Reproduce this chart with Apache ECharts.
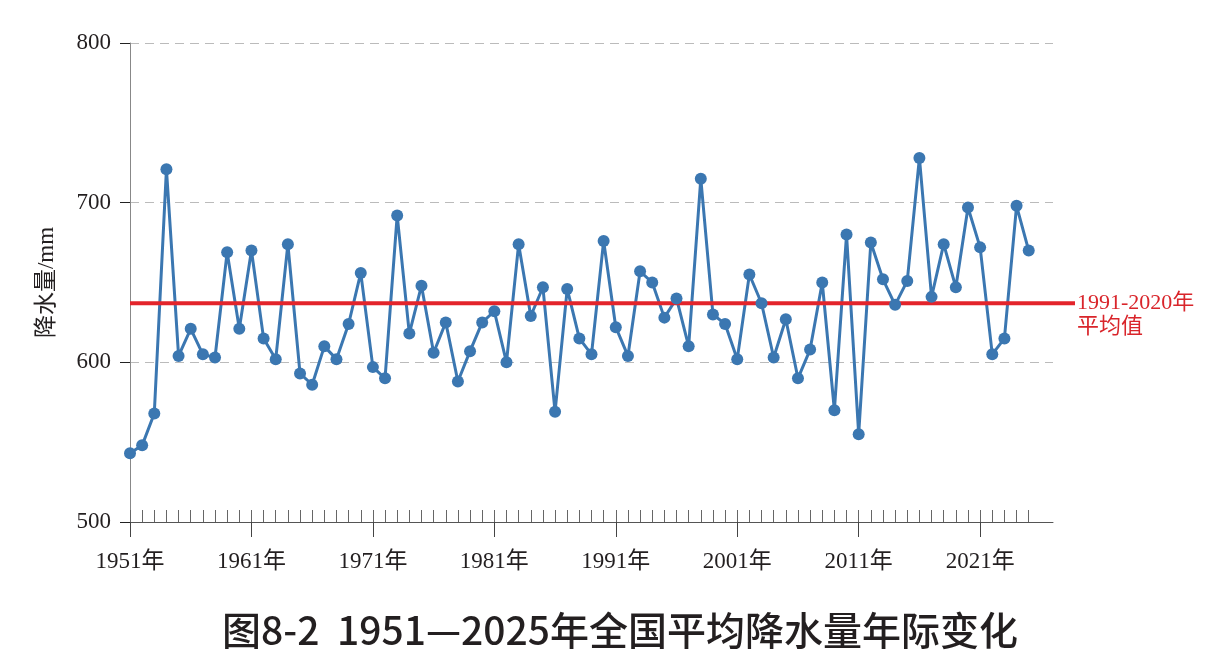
<!DOCTYPE html>
<html>
<head>
<meta charset="utf-8">
<script src="https://cdn.jsdelivr.net/npm/echarts@6/dist/echarts.min.js"></script>
<style>
  html, body { margin: 0; padding: 0; background: #fff; }
  #main { width: 1223px; height: 672px; }
</style>
</head>
<body>
<div id="main"></div>
<script>
// 年份
var years = ['1951','1952','1953','1954','1955','1956','1957','1958','1959','1960',
  '1961','1962','1963','1964','1965','1966','1967','1968','1969','1970',
  '1971','1972','1973','1974','1975','1976','1977','1978','1979','1980',
  '1981','1982','1983','1984','1985','1986','1987','1988','1989','1990',
  '1991','1992','1993','1994','1995','1996','1997','1998','1999','2000',
  '2001','2002','2003','2004','2005','2006','2007','2008','2009','2010',
  '2011','2012','2013','2014','2015','2016','2017','2018','2019','2020',
  '2021','2022','2023','2024','2025'];
// 全国平均降水量 (mm)
var precip = [543,548,568,721,604,621,605,603,669,621,
  670,615,602,674,593,586,610,602,624,656,
  597,590,692,618,648,606,625,588,607,625,
  632,600,674,629,647,569,646,615,605,676,
  622,604,657,650,628,640,610,715,630,624,
  602,655,637,603,627,590,608,650,570,680,
  555,675,652,636,651,728,641,674,647,697,
  672,605,615,698,670];
// 1991-2020年平均值
var meanValue = 637;
var yTicks = [500, 600, 700, 800];

var serif = '"Liberation Serif", "Noto Sans CJK SC", serif';
var blue = '#3b77b1';
var red = '#e3242b';

// 轴右侧多留两格空白
var xCats = years.concat(['', '']);

var chart = echarts.init(document.getElementById('main'));

var option = {
  animation: false,
  grid: { left: 130, right: 170, top: 43, bottom: 150 },
  xAxis: [{
    // 每年一个小刻度, 朝上
    type: 'category',
    data: xCats,
    boundaryGap: false,
    position: 'bottom',
    axisLine: { lineStyle: { color: '#555', width: 1 } },
    axisTick: {
      inside: true,
      length: 12,
      interval: function (i, v) { return v !== ''; },
      lineStyle: { color: '#666' }
    },
    axisLabel: { show: false },
    splitLine: { show: false }
  }, {
    // 每十年一个大刻度, 朝下, 带标签
    type: 'category',
    data: xCats,
    boundaryGap: false,
    position: 'bottom',
    axisLine: { show: false },
    axisTick: {
      length: 15,
      interval: function (i) { return i % 10 === 0; },
      lineStyle: { color: '#444' }
    },
    axisLabel: {
      interval: function (i) { return i % 10 === 0; },
      formatter: function (v) { return v + '年'; },
      margin: 28,
      fontSize: 23,
      fontFamily: serif,
      color: '#231f20'
    },
    splitLine: { show: false }
  }],
  yAxis: {
    type: 'value',
    min: yTicks[0],
    max: yTicks[yTicks.length - 1],
    interval: 100,
    name: '降水量/mm',
    nameLocation: 'middle',
    nameGap: 72,
    nameTextStyle: { fontSize: 23, fontFamily: serif, color: '#231f20' },
    axisLine: { show: true, lineStyle: { color: '#888' } },
    axisTick: { show: true, length: 10, lineStyle: { color: '#222' } },
    axisLabel: { fontSize: 23, fontFamily: serif, color: '#231f20', margin: 19 },
    splitLine: { show: true, lineStyle: { color: '#bbb', type: [9, 6], width: 1.2 } }
  },
  series: [{
    type: 'line',
    data: precip,
    symbol: 'none',
    lineStyle: { color: blue, width: 3 },
    z: 2
  }, {
    type: 'scatter',
    data: precip,
    symbolSize: 12,
    itemStyle: { color: blue, opacity: 1 },
    z: 4
  }]
};
chart.setOption(option);

// 平均值线, 伸出到坐标轴右边; 图题
var y0 = chart.convertToPixel({ yAxisIndex: 0 }, meanValue);
var x0 = chart.convertToPixel({ xAxisIndex: 0 }, years[0]);
chart.setOption({
  graphic: [{
    type: 'line',
    z: 3,
    shape: { x1: x0, y1: y0, x2: 1075, y2: y0 },
    style: { stroke: red, lineWidth: 4 }
  }, {
    type: 'text',
    z: 3,
    x: 1077,
    y: y0 - 12,
    style: {
      text: '1991-2020年\n平均值',
      fill: '#d9252b',
      font: '22px ' + serif,
      lineHeight: 24,
      verticalAlign: 'top'
    }
  }, {
    type: 'text',
    x: 620,
    y: 630,
    style: {
      text: '图8-2  1951—2025年全国平均降水量年际变化',
      fill: '#231f20',
      font: '500 39px "Noto Sans CJK SC", sans-serif',
      align: 'center',
      verticalAlign: 'middle'
    }
  }]
});
</script>
</body>
</html>
